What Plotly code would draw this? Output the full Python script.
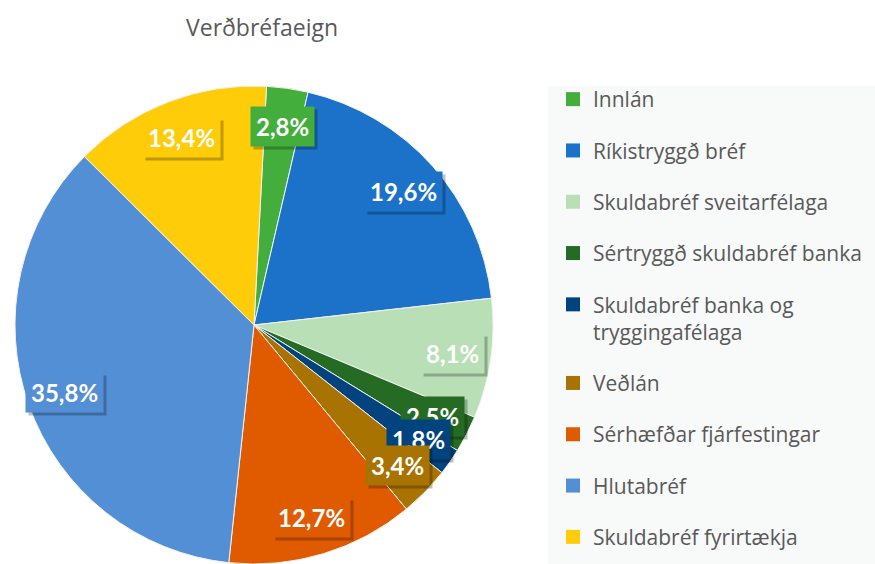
import plotly.graph_objects as go
import math

labels = ["Innlán", "Ríkistryggð bréf", "Skuldabréf sveitarfélaga",
          "Sértryggð skuldabréf banka", "Skuldabréf banka og<br>tryggingafélaga",
          "Veðlán", "Sérhæfðar fjárfestingar", "Hlutabréf", "Skuldabréf fyrirtækja"]
values = [2.8, 19.6, 8.1, 2.5, 1.8, 3.4, 12.7, 35.8, 13.4]
value_text = ["2,8%", "19,6%", "8,1%", "2,5%", "1,8%", "3,4%", "12,7%", "35,8%", "13,4%"]
colors = ["#43AE3C", "#1B72C8", "#B8DFB5", "#256B24", "#00437F",
          "#A87300", "#E05A00", "#538FD4", "#FFCC0A"]

W, H = 875, 564


def px(xs):
    return xs / W


def py(ys):
    return 1 - ys / H


cx, R = 254, 239
cy = H - R
rotation = 3
label_r = 0.84

xdom = [px(cx - R), px(cx + R)]
ydom = [max(0.0, py(cy + R)), min(1.0, py(cy - R))]

fig = go.Figure()
fig.add_trace(go.Pie(
    labels=labels, values=values, sort=False, direction="clockwise",
    rotation=rotation, marker=dict(colors=colors, line=dict(color="#F2F2F2", width=1)),
    textinfo="none", hoverinfo="label+percent", showlegend=False,
    domain=dict(x=xdom, y=ydom),
))

for lab, col in zip(labels, colors):
    fig.add_trace(go.Scatter(
        x=[None], y=[None], mode="markers", name=lab, legendgroup=lab,
        marker=dict(symbol="square", size=14, color=col), showlegend=True,
    ))

total = sum(values)
cum = 0.0
annotations = []
for v, t, col in zip(values, value_text, colors):
    mid = math.radians(rotation + 360.0 * (cum + v / 2) / total)
    cum += v
    ax_ = label_r * math.sin(mid)
    ay_ = label_r * math.cos(mid)
    annotations.append(dict(
        x=ax_, y=ay_, xref="x", yref="y", text=t, showarrow=False,
        font=dict(family="Lato", size=24, color="rgba(0,0,0,0)", weight="bold"),
        bgcolor="rgba(0,0,0,0.25)", borderpad=5, xshift=3, yshift=-3,
    ))
    annotations.append(dict(
        x=ax_, y=ay_, xref="x", yref="y", text=t, showarrow=False,
        font=dict(family="Lato", size=24, color="white", weight="bold"),
        bgcolor=col, borderpad=5,
    ))

annotations.append(dict(
    x=px(262), y=py(27), xref="paper", yref="paper", text="Verðbréfaeign",
    showarrow=False, font=dict(family="Open Sans", size=23, color="#595959"),
    xanchor="center", yanchor="middle",
))

fig.update_layout(
    width=W, height=H, margin=dict(l=0, r=0, t=0, b=0, autoexpand=False),
    paper_bgcolor="white", plot_bgcolor="rgba(0,0,0,0)",
    xaxis=dict(domain=xdom, range=[-1, 1], visible=False, fixedrange=True),
    yaxis=dict(domain=ydom, range=[-1, 1], visible=False, fixedrange=True),
    annotations=annotations,
    shapes=[dict(type="rect", xref="paper", yref="paper",
                 x0=px(548), x1=1, y0=0, y1=py(86),
                 fillcolor="#F8F9F9", line=dict(width=0), layer="below")],
    legend=dict(x=px(553), y=py(79), xanchor="left", yanchor="top",
                bgcolor="rgba(0,0,0,0)", font=dict(family="Open Sans", size=21, color="#595959"),
                tracegroupgap=21, itemwidth=30, traceorder="grouped", valign="top"),
    showlegend=True,
)

fig.write_html(
    "out.html",
    config={"displayModeBar": False},
    post_script="document.body.style.margin='0';document.body.style.overflow='hidden';",
)
